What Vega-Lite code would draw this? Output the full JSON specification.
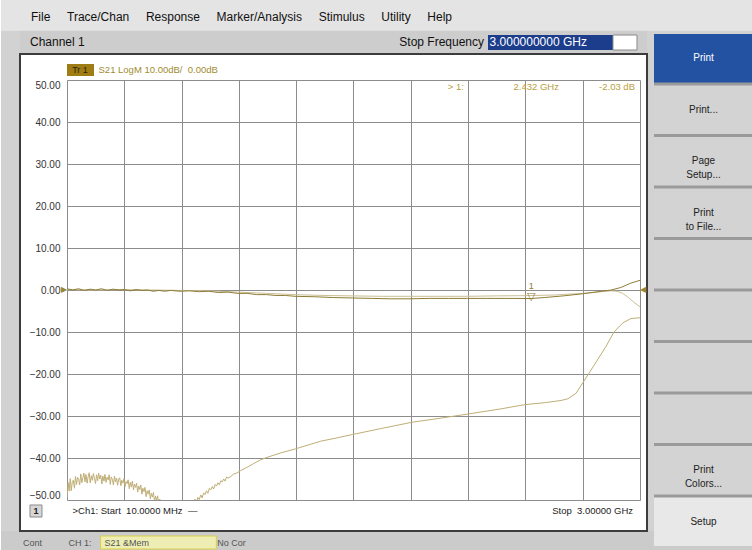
{
  "$schema": "https://vega.github.io/schema/vega-lite/v6.json",
  "background": "#ffffff",
  "padding": 0,
  "spacing": 14,
  "center": true,
  "bounds": "flush",
  "config": {
    "font": "Liberation Sans",
    "view": {"stroke": null},
    "axisY": {"grid": true, "gridColor": "#8c8c8c", "gridWidth": 1, "domain": false, "ticks": false, "labelFontSize": 10, "labelColor": "#333333", "labelPadding": 7, "labelFlush": true},
    "axisX": {"grid": true, "gridColor": "#8c8c8c", "gridWidth": 1, "domain": false, "ticks": false, "labels": false}
  },
  "datasets": {
    "traces": [
      {"trace":"Memory","f":0.01,"db":0.1},{"trace":"Memory","f":0.15,"db":0.0},{"trace":"Memory","f":0.30,"db":0.1},{"trace":"Memory","f":0.45,"db":0.0},{"trace":"Memory","f":0.60,"db":-0.1},{"trace":"Memory","f":0.75,"db":-0.2},{"trace":"Memory","f":0.90,"db":-0.5},{"trace":"Memory","f":1.05,"db":-0.8},{"trace":"Memory","f":1.20,"db":-1.1},{"trace":"Memory","f":1.35,"db":-1.3},{"trace":"Memory","f":1.50,"db":-1.4},{"trace":"Memory","f":1.65,"db":-1.5},{"trace":"Memory","f":1.80,"db":-1.5},{"trace":"Memory","f":1.95,"db":-1.5},{"trace":"Memory","f":2.10,"db":-1.5},{"trace":"Memory","f":2.25,"db":-1.4},{"trace":"Memory","f":2.40,"db":-1.35},{"trace":"Memory","f":2.55,"db":-1.2},{"trace":"Memory","f":2.70,"db":-0.8},{"trace":"Memory","f":2.80,"db":-0.4},{"trace":"Memory","f":2.85,"db":-0.2},{"trace":"Memory","f":2.88,"db":-0.3},{"trace":"Memory","f":2.91,"db":-0.8},{"trace":"Memory","f":2.94,"db":-1.8},{"trace":"Memory","f":2.97,"db":-3.0},{"trace":"Memory","f":3.00,"db":-4.0},
      {"trace":"Low","f":0.010,"db":-49.5},{"trace":"Low","f":0.016,"db":-45.8},{"trace":"Low","f":0.021,"db":-47.9},{"trace":"Low","f":0.027,"db":-44.9},{"trace":"Low","f":0.032,"db":-47.8},{"trace":"Low","f":0.038,"db":-45.6},{"trace":"Low","f":0.043,"db":-45.3},{"trace":"Low","f":0.049,"db":-47.2},{"trace":"Low","f":0.054,"db":-44.4},{"trace":"Low","f":0.060,"db":-46.3},{"trace":"Low","f":0.065,"db":-44.6},{"trace":"Low","f":0.071,"db":-45.1},{"trace":"Low","f":0.076,"db":-46.4},{"trace":"Low","f":0.082,"db":-43.8},{"trace":"Low","f":0.087,"db":-45.9},{"trace":"Low","f":0.093,"db":-44.7},{"trace":"Low","f":0.098,"db":-43.6},{"trace":"Low","f":0.104,"db":-45.7},{"trace":"Low","f":0.109,"db":-43.9},{"trace":"Low","f":0.115,"db":-46.0},{"trace":"Low","f":0.120,"db":-44.5},{"trace":"Low","f":0.126,"db":-43.5},{"trace":"Low","f":0.131,"db":-45.9},{"trace":"Low","f":0.137,"db":-44.2},{"trace":"Low","f":0.142,"db":-45.3},{"trace":"Low","f":0.148,"db":-43.7},{"trace":"Low","f":0.153,"db":-44.9},{"trace":"Low","f":0.159,"db":-46.1},{"trace":"Low","f":0.164,"db":-44.0},{"trace":"Low","f":0.170,"db":-45.4},{"trace":"Low","f":0.175,"db":-43.6},{"trace":"Low","f":0.181,"db":-45.0},{"trace":"Low","f":0.186,"db":-44.1},{"trace":"Low","f":0.192,"db":-46.2},{"trace":"Low","f":0.197,"db":-44.3},{"trace":"Low","f":0.203,"db":-45.5},{"trace":"Low","f":0.208,"db":-43.9},{"trace":"Low","f":0.214,"db":-45.8},{"trace":"Low","f":0.219,"db":-44.6},{"trace":"Low","f":0.225,"db":-45.2},{"trace":"Low","f":0.230,"db":-44.0},{"trace":"Low","f":0.236,"db":-46.3},{"trace":"Low","f":0.241,"db":-44.5},{"trace":"Low","f":0.247,"db":-45.1},{"trace":"Low","f":0.252,"db":-46.4},{"trace":"Low","f":0.258,"db":-44.3},{"trace":"Low","f":0.263,"db":-45.7},{"trace":"Low","f":0.269,"db":-44.8},{"trace":"Low","f":0.274,"db":-46.5},{"trace":"Low","f":0.280,"db":-45.0},{"trace":"Low","f":0.285,"db":-44.7},{"trace":"Low","f":0.291,"db":-46.6},{"trace":"Low","f":0.296,"db":-45.3},{"trace":"Low","f":0.302,"db":-46.0},{"trace":"Low","f":0.307,"db":-44.9},{"trace":"Low","f":0.313,"db":-46.8},{"trace":"Low","f":0.318,"db":-45.6},{"trace":"Low","f":0.324,"db":-46.1},{"trace":"Low","f":0.329,"db":-45.2},{"trace":"Low","f":0.335,"db":-47.3},{"trace":"Low","f":0.340,"db":-45.8},{"trace":"Low","f":0.346,"db":-46.9},{"trace":"Low","f":0.351,"db":-45.5},{"trace":"Low","f":0.357,"db":-47.6},{"trace":"Low","f":0.362,"db":-46.2},{"trace":"Low","f":0.368,"db":-47.0},{"trace":"Low","f":0.373,"db":-46.0},{"trace":"Low","f":0.379,"db":-48.1},{"trace":"Low","f":0.384,"db":-46.7},{"trace":"Low","f":0.390,"db":-47.5},{"trace":"Low","f":0.395,"db":-46.4},{"trace":"Low","f":0.401,"db":-48.6},{"trace":"Low","f":0.406,"db":-47.2},{"trace":"Low","f":0.412,"db":-48.0},{"trace":"Low","f":0.417,"db":-47.0},{"trace":"Low","f":0.423,"db":-49.2},{"trace":"Low","f":0.428,"db":-47.8},{"trace":"Low","f":0.434,"db":-48.6},{"trace":"Low","f":0.439,"db":-47.6},{"trace":"Low","f":0.445,"db":-49.7},{"trace":"Low","f":0.450,"db":-48.4},{"trace":"Low","f":0.456,"db":-49.3},{"trace":"Low","f":0.461,"db":-48.2},{"trace":"Low","f":0.467,"db":-50.4},{"trace":"Low","f":0.472,"db":-49.1},{"trace":"Low","f":0.478,"db":-50.0},{"trace":"Low","f":0.483,"db":-49.0},{"trace":"Low","f":0.489,"db":-51.1},{"trace":"Low","f":0.494,"db":-49.8},{"trace":"Low","f":0.500,"db":-50.6},{"trace":"Low","f":0.505,"db":-50.1},{"trace":"Low","f":0.511,"db":-52.0},{"trace":"Low","f":0.516,"db":-50.7},{"trace":"Low","f":0.522,"db":-51.6},{"trace":"Low","f":0.527,"db":-51.2},{"trace":"Low","f":0.540,"db":-53.5},{"trace":"Low","f":0.560,"db":-56.0},{"trace":"Low","f":0.600,"db":-60.0},{"trace":"Low","f":0.640,"db":-55.0},{"trace":"Low","f":0.656,"db":-51.2},{"trace":"Low","f":0.663,"db":-50.2},{"trace":"Low","f":0.670,"db":-50.9},{"trace":"Low","f":0.678,"db":-49.8},{"trace":"Low","f":0.685,"db":-50.6},{"trace":"Low","f":0.693,"db":-49.4},{"trace":"Low","f":0.700,"db":-49.9},{"trace":"Low","f":0.708,"db":-48.8},{"trace":"Low","f":0.715,"db":-49.5},{"trace":"Low","f":0.723,"db":-48.3},{"trace":"Low","f":0.730,"db":-48.7},{"trace":"Low","f":0.738,"db":-47.8},{"trace":"Low","f":0.745,"db":-48.4},{"trace":"Low","f":0.753,"db":-47.2},{"trace":"Low","f":0.760,"db":-47.6},{"trace":"Low","f":0.768,"db":-46.8},{"trace":"Low","f":0.775,"db":-47.4},{"trace":"Low","f":0.783,"db":-46.3},{"trace":"Low","f":0.790,"db":-46.7},{"trace":"Low","f":0.798,"db":-45.9},{"trace":"Low","f":0.805,"db":-46.4},{"trace":"Low","f":0.813,"db":-45.4},{"trace":"Low","f":0.820,"db":-45.7},{"trace":"Low","f":0.828,"db":-45.0},{"trace":"Low","f":0.835,"db":-45.5},{"trace":"Low","f":0.843,"db":-44.5},{"trace":"Low","f":0.850,"db":-44.8},{"trace":"Low","f":0.865,"db":-44.4},{"trace":"Low","f":0.880,"db":-43.8},{"trace":"Low","f":0.895,"db":-43.6},{"trace":"Low","f":0.916,"db":-43.0},{"trace":"Low","f":0.950,"db":-42.2},{"trace":"Low","f":0.985,"db":-41.3},{"trace":"Low","f":1.021,"db":-40.4},{"trace":"Low","f":1.070,"db":-39.6},{"trace":"Low","f":1.125,"db":-38.8},{"trace":"Low","f":1.204,"db":-37.8},{"trace":"Low","f":1.334,"db":-36.0},{"trace":"Low","f":1.420,"db":-35.2},{"trace":"Low","f":1.501,"db":-34.4},{"trace":"Low","f":1.647,"db":-33.0},{"trace":"Low","f":1.809,"db":-31.5},{"trace":"Low","f":1.961,"db":-30.5},{"trace":"Low","f":2.107,"db":-29.5},{"trace":"Low","f":2.274,"db":-28.3},{"trace":"Low","f":2.399,"db":-27.3},{"trace":"Low","f":2.509,"db":-26.8},{"trace":"Low","f":2.588,"db":-26.3},{"trace":"Low","f":2.624,"db":-25.9},{"trace":"Low","f":2.666,"db":-24.6},{"trace":"Low","f":2.703,"db":-22.0},{"trace":"Low","f":2.755,"db":-18.3},{"trace":"Low","f":2.823,"db":-13.4},{"trace":"Low","f":2.864,"db":-10.0},{"trace":"Low","f":2.911,"db":-7.8},{"trace":"Low","f":2.953,"db":-6.8},{"trace":"Low","f":3.000,"db":-6.6},
      {"trace":"Data","f":0.010,"db":0.3},{"trace":"Data","f":0.040,"db":0.0},{"trace":"Data","f":0.070,"db":0.3},{"trace":"Data","f":0.100,"db":-0.1},{"trace":"Data","f":0.130,"db":0.2},{"trace":"Data","f":0.160,"db":0.0},{"trace":"Data","f":0.190,"db":0.3},{"trace":"Data","f":0.220,"db":-0.1},{"trace":"Data","f":0.250,"db":0.2},{"trace":"Data","f":0.280,"db":0.0},{"trace":"Data","f":0.310,"db":0.1},{"trace":"Data","f":0.340,"db":-0.2},{"trace":"Data","f":0.370,"db":0.1},{"trace":"Data","f":0.400,"db":-0.1},{"trace":"Data","f":0.430,"db":0.0},{"trace":"Data","f":0.460,"db":-0.3},{"trace":"Data","f":0.490,"db":-0.1},{"trace":"Data","f":0.520,"db":-0.3},{"trace":"Data","f":0.550,"db":-0.1},{"trace":"Data","f":0.600,"db":-0.3},{"trace":"Data","f":0.650,"db":-0.2},{"trace":"Data","f":0.700,"db":-0.4},{"trace":"Data","f":0.750,"db":-0.3},{"trace":"Data","f":0.800,"db":-0.6},{"trace":"Data","f":0.850,"db":-0.5},{"trace":"Data","f":0.900,"db":-0.8},{"trace":"Data","f":0.950,"db":-0.8},{"trace":"Data","f":1.000,"db":-1.1},{"trace":"Data","f":1.050,"db":-1.1},{"trace":"Data","f":1.100,"db":-1.3},{"trace":"Data","f":1.150,"db":-1.3},{"trace":"Data","f":1.200,"db":-1.5},{"trace":"Data","f":1.300,"db":-1.6},{"trace":"Data","f":1.400,"db":-1.8},{"trace":"Data","f":1.500,"db":-1.9},{"trace":"Data","f":1.600,"db":-2.0},{"trace":"Data","f":1.700,"db":-2.1},{"trace":"Data","f":1.800,"db":-2.1},{"trace":"Data","f":1.900,"db":-2.0},{"trace":"Data","f":2.000,"db":-2.0},{"trace":"Data","f":2.100,"db":-2.0},{"trace":"Data","f":2.200,"db":-2.0},{"trace":"Data","f":2.300,"db":-2.0},{"trace":"Data","f":2.432,"db":-2.03},{"trace":"Data","f":2.500,"db":-1.8},{"trace":"Data","f":2.600,"db":-1.4},{"trace":"Data","f":2.700,"db":-0.9},{"trace":"Data","f":2.800,"db":-0.3},{"trace":"Data","f":2.850,"db":0.0},{"trace":"Data","f":2.900,"db":0.6},{"trace":"Data","f":2.950,"db":1.6},{"trace":"Data","f":3.000,"db":2.3}
    ],
    "buttons": [
      {"slot":1,"label":"Print","state":"active"},
      {"slot":2,"label":"Print...","state":"normal"},
      {"slot":3,"label":"Page\nSetup...","state":"normal"},
      {"slot":4,"label":"Print\nto File...","state":"normal"},
      {"slot":5,"label":"","state":"normal"},
      {"slot":6,"label":"","state":"normal"},
      {"slot":7,"label":"","state":"normal"},
      {"slot":8,"label":"","state":"normal"},
      {"slot":9,"label":"Print\nColors...","state":"normal"},
      {"slot":10,"label":"Setup","state":"light"}
    ]
  },
  "hconcat": [
    {
      "width": 573,
      "height": 420,
      "layer": [
        {"data":{"values":[{}]},"mark":{"type":"rect","fill":"#e4e4e4"},"encoding":{"x":{"datum":-0.3344,"type":"quantitative","scale":{"domain":[0.01,3.0],"nice":false,"zero":false},"title":null},"x2":{"datum":3.589},"y":{"datum":69.04,"type":"quantitative","scale":{"domain":[-50,50],"nice":false,"zero":false},"title":null},"y2":{"datum":61.79}}},
        {"data":{"values":[{}]},"mark":{"type":"rect","fill":"#d2d2d2"},"encoding":{"x":{"datum":-0.3344,"type":"quantitative","scale":{"domain":[0.01,3.0],"nice":false,"zero":false},"title":null},"x2":{"datum":-0.2353},"y":{"datum":61.79,"type":"quantitative","scale":{"domain":[-50,50],"nice":false,"zero":false},"title":null},"y2":{"datum":-61.9}}},
        {"data":{"values":[{}]},"mark":{"type":"rect","fill":"#d2d2d2"},"encoding":{"x":{"datum":3.0366,"type":"quantitative","scale":{"domain":[0.01,3.0],"nice":false,"zero":false},"title":null},"x2":{"datum":3.589},"y":{"datum":61.79,"type":"quantitative","scale":{"domain":[-50,50],"nice":false,"zero":false},"title":null},"y2":{"datum":-61.9}}},
        {"data":{"values":[{}]},"mark":{"type":"rect","fill":"#cbcbcb"},"encoding":{"x":{"datum":-0.3344,"type":"quantitative","scale":{"domain":[0.01,3.0],"nice":false,"zero":false},"title":null},"x2":{"datum":3.589},"y":{"datum":-57.38,"type":"quantitative","scale":{"domain":[-50,50],"nice":false,"zero":false},"title":null},"y2":{"datum":-61.9}}},
        {"data":{"values":[{}]},"mark":{"type":"rect","fill":"#cdcdcd"},"encoding":{"x":{"datum":-0.2353,"type":"quantitative","scale":{"domain":[0.01,3.0],"nice":false,"zero":false},"title":null},"x2":{"datum":3.0366},"y":{"datum":61.79,"type":"quantitative","scale":{"domain":[-50,50],"nice":false,"zero":false},"title":null},"y2":{"datum":56.19}}},
        {"data":{"values":[{}]},"mark":{"type":"rect","fillOpacity":0,"stroke":"#3c3c3c","strokeWidth":2},"encoding":{"x":{"datum":-0.2353,"type":"quantitative","scale":{"domain":[0.01,3.0],"nice":false,"zero":false},"title":null},"x2":{"datum":3.0366},"y":{"datum":56.19,"type":"quantitative","scale":{"domain":[-50,50],"nice":false,"zero":false},"title":null},"y2":{"datum":-57.38}}},
        {"data":{"values":[{}]},"mark":{"type":"rect","fill":"#eeeeb4","stroke":"#d8d048","strokeWidth":1},"encoding":{"x":{"datum":0.1852,"type":"quantitative","scale":{"domain":[0.01,3.0],"nice":false,"zero":false},"title":null},"x2":{"datum":0.7892},"y":{"datum":-58.57,"type":"quantitative","scale":{"domain":[-50,50],"nice":false,"zero":false},"title":null},"y2":{"datum":-61.67}}},
        {"data":{"values":[{}]},"mark":{"type":"rect","fill":"#1c3c8c"},"encoding":{"x":{"datum":2.2069,"type":"quantitative","scale":{"domain":[0.01,3.0],"nice":false,"zero":false},"title":null},"x2":{"datum":2.8591},"y":{"datum":60.71,"type":"quantitative","scale":{"domain":[-50,50],"nice":false,"zero":false},"title":null},"y2":{"datum":57.14}}},
        {"data":{"values":[{}]},"mark":{"type":"rect","fill":"#ffffff","stroke":"#8a8a8a","strokeWidth":1},"encoding":{"x":{"datum":2.8591,"type":"quantitative","scale":{"domain":[0.01,3.0],"nice":false,"zero":false},"title":null},"x2":{"datum":2.9843},"y":{"datum":60.71,"type":"quantitative","scale":{"domain":[-50,50],"nice":false,"zero":false},"title":null},"y2":{"datum":57.14}}},
        {"data":{"values":[{}]},"mark":{"type":"rect","fill":"#a07c14"},"encoding":{"x":{"datum":0.01,"type":"quantitative","scale":{"domain":[0.01,3.0],"nice":false,"zero":false},"title":null},"x2":{"datum":0.1509},"y":{"datum":53.81,"type":"quantitative","scale":{"domain":[-50,50],"nice":false,"zero":false},"title":null},"y2":{"datum":50.95}}},
        {"data":{"values":[{}]},"mark":{"type":"rect","fill":"#d6d6d6","stroke":"#8a8a8a","strokeWidth":1},"encoding":{"x":{"datum":-0.1831,"type":"quantitative","scale":{"domain":[0.01,3.0],"nice":false,"zero":false},"title":null},"x2":{"datum":-0.1205},"y":{"datum":-51.19,"type":"quantitative","scale":{"domain":[-50,50],"nice":false,"zero":false},"title":null},"y2":{"datum":-54.05}}},
        {
          "data":{"name":"traces"},
          "mark":{"type":"line","clip":true,"strokeWidth":1},
          "encoding":{
            "x":{"field":"f","type":"quantitative","scale":{"domain":[0.01,3.0],"nice":false,"zero":false},"title":null,"axis":{"values":[0.01,0.309,0.608,0.907,1.206,1.505,1.804,2.103,2.402,2.701,3.0]}},
            "y":{"field":"db","type":"quantitative","scale":{"domain":[-50,50],"nice":false,"zero":false},"title":null,"axis":{"values":[-50,-40,-30,-20,-10,0,10,20,30,40,50],"format":".2f"}},
            "color":{"field":"trace","type":"nominal","legend":null,"scale":{"domain":["Memory","Low","Data"],"range":["#cbbf94","#bfae76","#8f7d35"]}},
            "order":{"field":"f","type":"quantitative"}
          }
        },
        {"data":{"values":[{"t":"File\u00a0\u00a0\u00a0\u00a0\u00a0Trace/Chan\u00a0\u00a0\u00a0\u00a0\u00a0Response\u00a0\u00a0\u00a0\u00a0\u00a0Marker/Analysis\u00a0\u00a0\u00a0\u00a0\u00a0Stimulus\u00a0\u00a0\u00a0\u00a0\u00a0Utility\u00a0\u00a0\u00a0\u00a0\u00a0Help","f":-0.1779,"db":65.0}]},"mark":{"type":"text","align":"left","baseline":"middle","fontSize":12,"fill":"#111111"},"encoding":{"x":{"field":"f","type":"quantitative","title":null},"y":{"field":"db","type":"quantitative","title":null},"text":{"field":"t"}}},
        {"data":{"values":[{"t":"Channel 1","f":-0.1831,"db":58.93}]},"mark":{"type":"text","align":"left","baseline":"middle","fontSize":12,"fill":"#111111"},"encoding":{"x":{"field":"f","type":"quantitative","title":null},"y":{"field":"db","type":"quantitative","title":null},"text":{"field":"t"}}},
        {"data":{"values":[{"t":"Stop Frequency","f":2.186,"db":58.93}]},"mark":{"type":"text","align":"right","baseline":"middle","fontSize":12,"fill":"#111111"},"encoding":{"x":{"field":"f","type":"quantitative","title":null},"y":{"field":"db","type":"quantitative","title":null},"text":{"field":"t"}}},
        {"data":{"values":[{"t":"3.000000000 GHz","f":2.2148,"db":58.93}]},"mark":{"type":"text","align":"left","baseline":"middle","fontSize":12,"fill":"#ffffff"},"encoding":{"x":{"field":"f","type":"quantitative","title":null},"y":{"field":"db","type":"quantitative","title":null},"text":{"field":"t"}}},
        {"data":{"values":[{"t":"Tr 1","f":0.0778,"db":52.38}]},"mark":{"type":"text","align":"center","baseline":"middle","fontSize":9,"fill":"#2e2200"},"encoding":{"x":{"field":"f","type":"quantitative","title":null},"y":{"field":"db","type":"quantitative","title":null},"text":{"field":"t"}}},
        {"data":{"values":[{"t":"S21 LogM 10.00dB/\u00a0\u00a00.00dB","f":0.1744,"db":52.38}]},"mark":{"type":"text","align":"left","baseline":"middle","fontSize":9.5,"fill":"#a08c30"},"encoding":{"x":{"field":"f","type":"quantitative","title":null},"y":{"field":"db","type":"quantitative","title":null},"text":{"field":"t"}}},
        {"data":{"values":[{"t":"> 1:","f":2.0816,"db":48.33},{"t":"2.432 GHz","f":2.5773,"db":48.33},{"t":"-2.03 dB","f":2.9739,"db":48.33}]},"mark":{"type":"text","align":"right","baseline":"middle","fontSize":9.5,"fill":"#b8a040"},"encoding":{"x":{"field":"f","type":"quantitative","title":null},"y":{"field":"db","type":"quantitative","title":null},"text":{"field":"t"}}},
        {"data":{"values":[{"t":"▽","f":2.432,"db":-2.03}]},"mark":{"type":"text","align":"center","baseline":"bottom","fontSize":11,"dy":3,"fill":"#8f7d35"},"encoding":{"x":{"field":"f","type":"quantitative","title":null},"y":{"field":"db","type":"quantitative","title":null},"text":{"field":"t"}}},
        {"data":{"values":[{"t":"1","f":2.432,"db":-2.03}]},"mark":{"type":"text","align":"center","baseline":"bottom","fontSize":9,"dy":-8,"fill":"#8f7d35"},"encoding":{"x":{"field":"f","type":"quantitative","title":null},"y":{"field":"db","type":"quantitative","title":null},"text":{"field":"t"}}},
        {"data":{"values":[{"t":"▶","f":0.01,"db":0}]},"mark":{"type":"text","align":"right","baseline":"middle","fontSize":8,"fill":"#9a8430"},"encoding":{"x":{"field":"f","type":"quantitative","title":null},"y":{"field":"db","type":"quantitative","title":null},"text":{"field":"t"}}},
        {"data":{"values":[{"t":"◀","f":3.0,"db":0}]},"mark":{"type":"text","align":"left","baseline":"middle","fontSize":8,"fill":"#9a8430"},"encoding":{"x":{"field":"f","type":"quantitative","title":null},"y":{"field":"db","type":"quantitative","title":null},"text":{"field":"t"}}},
        {"data":{"values":[{"t":"1","f":-0.152,"db":-52.62}]},"mark":{"type":"text","align":"center","baseline":"middle","fontSize":9,"fontWeight":"bold","fill":"#222222"},"encoding":{"x":{"field":"f","type":"quantitative","title":null},"y":{"field":"db","type":"quantitative","title":null},"text":{"field":"t"}}},
        {"data":{"values":[{"t":">Ch1: Start\u00a0\u00a010.0000 MHz\u00a0\u00a0—","f":0.0387,"db":-52.62}]},"mark":{"type":"text","align":"left","baseline":"middle","fontSize":9.5,"fill":"#222222"},"encoding":{"x":{"field":"f","type":"quantitative","title":null},"y":{"field":"db","type":"quantitative","title":null},"text":{"field":"t"}}},
        {"data":{"values":[{"t":"Stop\u00a0\u00a03.00000 GHz","f":2.9635,"db":-52.62}]},"mark":{"type":"text","align":"right","baseline":"middle","fontSize":9.5,"fill":"#222222"},"encoding":{"x":{"field":"f","type":"quantitative","title":null},"y":{"field":"db","type":"quantitative","title":null},"text":{"field":"t"}}},
        {"data":{"values":[{"t":"Cont","f":-0.2196,"db":-60.24},{"t":"CH 1:","f":0.0178,"db":-60.24},{"t":"S21 &Mem","f":0.2057,"db":-60.24},{"t":"No Cor","f":0.7944,"db":-60.24}]},"mark":{"type":"text","align":"left","baseline":"middle","fontSize":9,"fill":"#555555"},"encoding":{"x":{"field":"f","type":"quantitative","title":null},"y":{"field":"db","type":"quantitative","title":null},"text":{"field":"t"}}}
      ]
    },
    {
      "width": 99,
      "height": 512,
      "data": {"name": "buttons"},
      "view": {"fill": "#9a9a9a", "stroke": null},
      "layer": [
        {
          "mark": {"type": "rect"},
          "encoding": {
            "y": {"field": "slot", "type": "ordinal", "axis": null, "sort": null, "scale": {"paddingInner": 0.06, "paddingOuter": 0}},
            "x": {"value": 0},
            "x2": {"value": "width"},
            "color": {"condition": [{"test": "datum.state === 'active'", "value": "#2352a3"}, {"test": "datum.state === 'light'", "value": "#e8e8e8"}], "value": "#d3d3d3"}
          }
        },
        {
          "mark": {"type": "text", "lineBreak": "\n", "fontSize": 10, "lineHeight": 14, "baseline": "middle", "align": "center"},
          "encoding": {
            "y": {"field": "slot", "type": "ordinal", "axis": null, "sort": null},
            "text": {"field": "label"},
            "color": {"condition": {"test": "datum.state === 'active'", "value": "#ffffff"}, "value": "#222222"}
          }
        }
      ]
    }
  ]
}
